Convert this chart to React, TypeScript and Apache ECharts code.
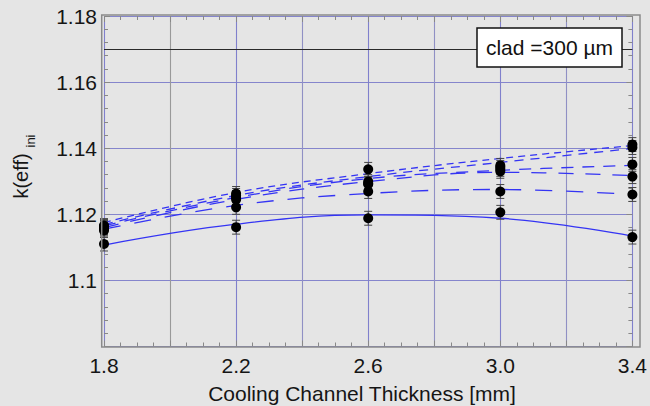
import React, { useEffect, useRef } from 'react';
import * as echarts from 'echarts';

// Cooling channel thickness [mm] at which k(eff) was computed
const xValues = [1.8, 2.2, 2.6, 3.0, 3.4];
// thicknesses that carry a tick label
const xLabelValues = [1.8, 2.2, 2.6, 3.0, 3.4];

// Computed k(eff)_ini points (black dots), one list per case
const pointsSolid = [1.111, 1.1161, 1.1188, 1.1206, 1.1131];
const pointsLongDash = [1.1151, 1.1221, 1.1269, 1.1269, 1.126];
const pointsMedDashB = [1.1156, 1.1245, 1.1291, 1.133, 1.1314];
const pointsMedDashA = [1.116, 1.1251, 1.1293, 1.1336, 1.1351];
const pointsShortDashB = [1.1163, 1.1257, 1.1299, 1.1342, 1.1402];
const pointsShortDashA = [1.1166, 1.1263, 1.1336, 1.1348, 1.1411];

// Fitted curves (blue lines) read at the same thicknesses
const fitSolid = [1.1107, 1.117, 1.1198, 1.1188, 1.1134];
const fitLongDash = [1.1155, 1.1227, 1.1263, 1.1275, 1.126];
const fitMedDashB = [1.116, 1.1245, 1.1299, 1.1327, 1.1317];
const fitMedDashA = [1.1165, 1.1251, 1.1308, 1.1333, 1.1348];
const fitShortDashB = [1.1169, 1.1257, 1.1314, 1.1357, 1.1399];
const fitShortDashA = [1.1175, 1.1266, 1.1323, 1.1369, 1.1408];

// statistical uncertainty of each point (error bar half height)
const pointError = 0.0021;

const referenceLevel = 1.17;
const cladLabel = 'clad =300 µm';
const xTitle = 'Cooling Channel Thickness [mm]';
const yTitleMain = 'k(eff)';
const yTitleSub = 'ini';

const FONT = "'Liberation Sans', Arial, Helvetica, sans-serif";
const BLUE = '#3434f4';

const cases = [
  { points: pointsSolid, fit: fitSolid, dash: 'solid' as any },
  { points: pointsLongDash, fit: fitLongDash, dash: [17, 14] },
  { points: pointsMedDashB, fit: fitMedDashB, dash: [15, 12] },
  { points: pointsMedDashA, fit: fitMedDashA, dash: [12, 9] },
  { points: pointsShortDashB, fit: fitShortDashB, dash: [9, 7] },
  { points: pointsShortDashA, fit: fitShortDashA, dash: [7, 5] },
];

export default function App() {
  const ref = useRef<HTMLDivElement>(null);

  useEffect(() => {
    if (!ref.current) return;
    const chart = echarts.init(ref.current, undefined, { renderer: 'svg' });

    const gridLeft = 104;
    const gridRight = 650 - 636.5;
    const gridTop = 16;
    const gridBottom = 406 - 346.5;

    const xSplitColors = ['#8080cc', '#999999', '#8080cc', '#9090c4', '#8080cc', '#9090c4', '#8080cc', '#9090c4', '#8080cc'];

    const allPoints: number[][] = [];
    cases.forEach((c) => c.points.forEach((v, i) => allPoints.push([xValues[i], v, pointError])));

    const fitSeries = cases.map((c, idx) => ({
      type: 'line',
      data: c.fit.map((v, i) => [xValues[i], v]),
      smooth: 0.4,
      showSymbol: false,
      symbol: 'none',
      silent: true,
      z: 3,
      lineStyle: { color: BLUE, width: 1.3, type: c.dash },
      ...(idx === 0
        ? {
            markLine: {
              silent: true,
              symbol: 'none',
              label: { show: false },
              lineStyle: { color: '#2a2a2a', width: 1, type: 'solid' },
              data: [{ yAxis: referenceLevel }],
            },
          }
        : {}),
    }));

    const baseX = {
      type: 'value',
      min: 1.8,
      max: 3.4,
      interval: 0.2,
      axisLine: { show: false },
      minorTick: { show: true, splitNumber: 4, length: 4, lineStyle: { color: '#888' } },
    };
    const baseY = {
      type: 'value',
      min: 1.08,
      max: 1.18,
      interval: 0.02,
      axisLine: { show: false },
      minorTick: { show: true, splitNumber: 5, length: 4, lineStyle: { color: '#888' } },
    };

    chart.setOption({
      animation: false,
      backgroundColor: '#e5e5e5',
      grid: { left: gridLeft, right: gridRight, top: gridTop, bottom: gridBottom, containLabel: false },
      xAxis: [
        {
          ...baseX,
          position: 'bottom',
          axisTick: { show: true, inside: true, length: 6, lineStyle: { color: '#888' } },
          axisLabel: {
            margin: 8,
            fontSize: 21,
            fontFamily: FONT,
            color: '#151515',
            formatter: (v: number) =>
              xLabelValues.some((l) => Math.abs(l - v) < 1e-6) ? v.toFixed(1) : '',
          },
          splitLine: { show: true, lineStyle: { color: xSplitColors, width: 1.1 } },
        },
        {
          ...baseX,
          position: 'top',
          axisTick: { show: true, inside: true, length: 6, lineStyle: { color: '#888' } },
          axisLabel: { show: false },
          splitLine: { show: false },
        },
      ],
      yAxis: [
        {
          ...baseY,
          position: 'left',
          axisTick: { show: true, inside: true, length: 6, lineStyle: { color: '#888' } },
          axisLabel: {
            margin: 7,
            fontSize: 21,
            fontFamily: FONT,
            color: '#151515',
            formatter: (v: number) => (Math.abs(v - 1.08) < 1e-6 ? '' : String(Number(v.toFixed(2)))),
          },
          splitLine: { show: true, lineStyle: { color: '#8585cc', width: 1.1 } },
        },
        {
          ...baseY,
          position: 'right',
          axisTick: { show: true, inside: true, length: 6, lineStyle: { color: '#888' } },
          axisLabel: { show: false },
          splitLine: { show: false },
        },
      ],
      series: [
        ...fitSeries,
        {
          type: 'custom',
          silent: true,
          z: 4,
          data: allPoints,
          renderItem: (params: any, api: any) => {
            const x = api.value(0);
            const y = api.value(1);
            const e = api.value(2);
            const top = api.coord([x, y + e]);
            const bot = api.coord([x, y - e]);
            const hw = 4;
            const st = { stroke: '#444', lineWidth: 1 };
            return {
              type: 'group',
              children: [
                { type: 'line', shape: { x1: top[0], y1: top[1], x2: bot[0], y2: bot[1] }, style: st },
                { type: 'line', shape: { x1: top[0] - hw, y1: top[1], x2: top[0] + hw, y2: top[1] }, style: st },
                { type: 'line', shape: { x1: bot[0] - hw, y1: bot[1], x2: bot[0] + hw, y2: bot[1] }, style: st },
              ],
            };
          },
        },
        {
          type: 'scatter',
          silent: true,
          z: 5,
          symbol: 'circle',
          symbolSize: 10,
          itemStyle: { color: '#000', opacity: 1 },
          data: allPoints.map((p) => [p[0], p[1]]),
        },
      ],
      graphic: [
        {
          type: 'rect',
          z: 10,
          shape: { x: 101.7, y: 15, width: 538.3, height: 332 },
          style: { fill: 'none', stroke: '#8a8a8a', lineWidth: 1.5 },
        },
        {
          type: 'rect',
          z: 11,
          shape: { x: 477, y: 28, width: 145, height: 39 },
          style: { fill: '#ffffff', stroke: '#111', lineWidth: 1.5 },
        },
        {
          type: 'text',
          z: 12,
          x: 549.5,
          y: 47.5,
          style: {
            text: cladLabel,
            fontSize: 21,
            fontFamily: FONT,
            fill: '#111',
            textAlign: 'center',
            textVerticalAlign: 'middle',
          },
        },
        {
          type: 'text',
          z: 12,
          x: 362,
          y: 393,
          style: {
            text: xTitle,
            fontSize: 21,
            fontFamily: FONT,
            fill: '#151515',
            textAlign: 'center',
            textVerticalAlign: 'middle',
          },
        },
        {
          type: 'text',
          z: 12,
          x: 20.5,
          y: 176,
          rotation: Math.PI / 2,
          style: {
            text: yTitleMain,
            fontSize: 20,
            fontFamily: FONT,
            fill: '#151515',
            textAlign: 'center',
            textVerticalAlign: 'middle',
          },
        },
        {
          type: 'text',
          z: 12,
          x: 30.5,
          y: 141,
          rotation: Math.PI / 2,
          style: {
            text: yTitleSub,
            fontSize: 13,
            fontFamily: FONT,
            fill: '#151515',
            textAlign: 'center',
            textVerticalAlign: 'middle',
          },
        },
      ],
    });

    return () => chart.dispose();
  }, []);

  return (
    <div
      ref={ref}
      style={{ position: 'fixed', left: 0, top: 0, width: 650, height: 406 }}
    />
  );
}
